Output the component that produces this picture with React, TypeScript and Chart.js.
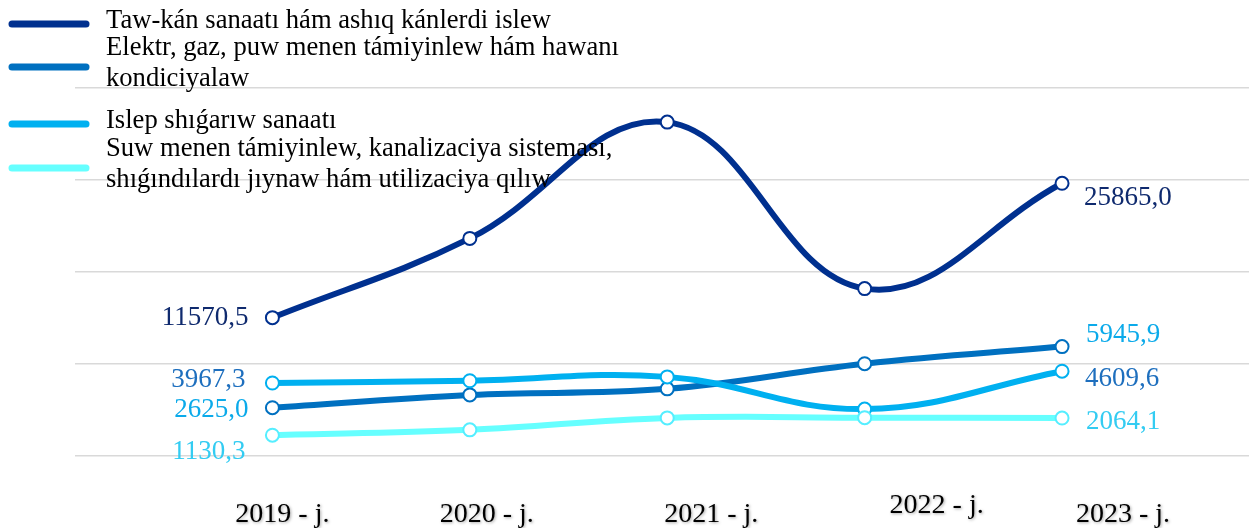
import React, { useEffect, useRef } from "react";
import { Chart, registerables } from "chart.js";

Chart.register(...registerables);

const years = ["2019 - j.", "2020 - j.", "2021 - j.", "2022 - j.", "2023 - j."];

const seriesNames = [
  ["Taw-kán sanaatı hám ashıq kánlerdi islew"],
  ["Elektr, gaz, puw menen támiyinlew hám hawanı", "kondiciyalaw"],
  ["Islep shıǵarıw sanaatı"],
  ["Suw menen támiyinlew, kanalizaciya sisteması,", "shıǵındılardı jıynaw hám utilizaciya qılıw"],
];

const mining = [11570.5, 20000, 32370, 14660, 25865.0];
const energy = [2625.0, 3320, 3650, 5015, 5945.9];
const manufacturing = [3967.3, 4090, 4300, 2550, 4609.6];
const water = [1130.3, 1420, 2070, 2085, 2064.1];

const seriesValues = [mining, energy, manufacturing, water];

const primaryTicks = [0, 5000, 10000, 15000, 20000];

// styling
const lineColors = ["#00308F", "#0070C0", "#00B0F0", "#66FFFF"];
const FONT = "'Liberation Serif', 'Times New Roman', serif";

// end-label styling: [first, last] per series: dx, dy, align, color
const endLabelStyle = [
  [
    { dx: -24, dy: 0, align: "right", color: "#0F2A6E" },
    { dx: 22, dy: 15, align: "left", color: "#0F2A6E" },
  ],
  [
    { dx: -24, dy: 2, align: "right", color: "#0BAAEA" },
    { dx: 24, dy: -12, align: "left", color: "#0BAAEA" },
  ],
  [
    { dx: -27, dy: -3, align: "right", color: "#1E6FBE" },
    { dx: 23, dy: 8, align: "left", color: "#1E6FBE" },
  ],
  [
    { dx: -27, dy: 17, align: "right", color: "#33CCF2" },
    { dx: 24, dy: 4, align: "left", color: "#33CCF2" },
  ],
];

// x-label pixel nudges relative to category position
const xLabelNudge = [
  { dx: 10, dy: 0 },
  { dx: 17, dy: 0 },
  { dx: 44, dy: 0 },
  { dx: 72, dy: -9 },
  { dx: 61, dy: 0 },
];

const legendRows = [24, 67, 124, 168];

function fmt(v: number) {
  return v.toFixed(1).replace(".", ",");
}

const overlayPlugin = {
  id: "overlay",
  afterDatasetsDraw(chart: any) {
    const ctx = chart.ctx as CanvasRenderingContext2D;
    ctx.save();
    // end labels
    ctx.font = `27px ${FONT}`;
    ctx.textBaseline = "middle";
    seriesValues.forEach((vals, di) => {
      const meta = chart.getDatasetMeta(di);
      const idxs = [0, vals.length - 1];
      idxs.forEach((idx, k) => {
        const pt = meta.data[idx];
        const st = endLabelStyle[di][k];
        ctx.fillStyle = st.color;
        ctx.textAlign = st.align as CanvasTextAlign;
        ctx.fillText(fmt(vals[idx]), pt.x + st.dx, pt.y + st.dy);
      });
    });

    // x labels
    const xs = chart.scales.x;
    ctx.font = `28px ${FONT}`;
    ctx.textAlign = "center";
    ctx.textBaseline = "alphabetic";
    ctx.fillStyle = "#000";
    ctx.shadowColor = "rgba(0,0,0,0.35)";
    ctx.shadowBlur = 3;
    ctx.shadowOffsetX = 1;
    ctx.shadowOffsetY = 1;
    years.forEach((lab, i) => {
      const x = xs.getPixelForValue(i);
      ctx.fillText(lab, x + xLabelNudge[i].dx, chart.chartArea.bottom + 66 + xLabelNudge[i].dy);
    });
    ctx.shadowColor = "transparent";
    ctx.shadowBlur = 0;
    ctx.shadowOffsetX = 0;
    ctx.shadowOffsetY = 0;

    // legend
    ctx.font = `26.6px ${FONT}`;
    ctx.textAlign = "left";
    ctx.textBaseline = "middle";
    const lineH = 31;
    seriesNames.forEach((lines, i) => {
      const cy = legendRows[i];
      ctx.strokeStyle = lineColors[i];
      ctx.lineWidth = 7;
      ctx.lineCap = "round";
      ctx.beginPath();
      ctx.moveTo(12, cy);
      ctx.lineTo(86, cy);
      ctx.stroke();
      ctx.fillStyle = "#000";
      const startY = cy - ((lines.length - 1) * lineH) / 2 - 3;
      lines.forEach((t, j) => {
        ctx.fillText(t, 106, startY + j * lineH);
      });
    });
    ctx.restore();
  },
};

export default function App() {
  const ref = useRef<HTMLCanvasElement | null>(null);

  useEffect(() => {
    if (!ref.current) return;
    const datasets = seriesValues.map((vals, i) => ({
      label: seriesNames[i].join(" "),
      data: vals.map((v, j) => ({ x: j, y: v })),
      yAxisID: i === 0 ? "y1" : "y",
      borderColor: lineColors[i],
      backgroundColor: lineColors[i],
      borderWidth: 6,
      tension: 0.4,
      pointRadius: 6.5,
      pointBorderWidth: 2,
      pointBackgroundColor: "#ffffff",
      pointBorderColor: i === 3 ? "#55EEFF" : lineColors[i],
      order: 4 - i,
    }));
    const chart = new Chart(ref.current, {
      type: "line",
      data: { datasets },
      options: {
        animation: false,
        responsive: false,
        maintainAspectRatio: false,
        layout: { autoPadding: false, padding: { left: 75, top: 88, right: 0, bottom: 72 } },
        plugins: { legend: { display: false }, tooltip: { enabled: false } },
        scales: {
          x: {
            type: "linear",
            min: -1,
            max: 4.947,
            display: false,
          },
          y: {
            min: 0,
            max: 20000,
            afterBuildTicks: (s: any) => {
              s.ticks = primaryTicks.map((v) => ({ value: v }));
            },
            ticks: { display: false },
            border: { display: false },
            grid: { color: "#D9D9D9", lineWidth: 1.5, drawTicks: false },
          },
          y1: {
            min: -3150,
            max: 36000,
            display: false,
          },
        },
      },
      plugins: [overlayPlugin],
    });
    return () => chart.destroy();
  }, []);

  return (
    <div style={{ position: "fixed", left: 0, top: 0, width: 1249, height: 528, background: "#fff" }}>
      <canvas ref={ref} width={1249} height={528} />
    </div>
  );
}
